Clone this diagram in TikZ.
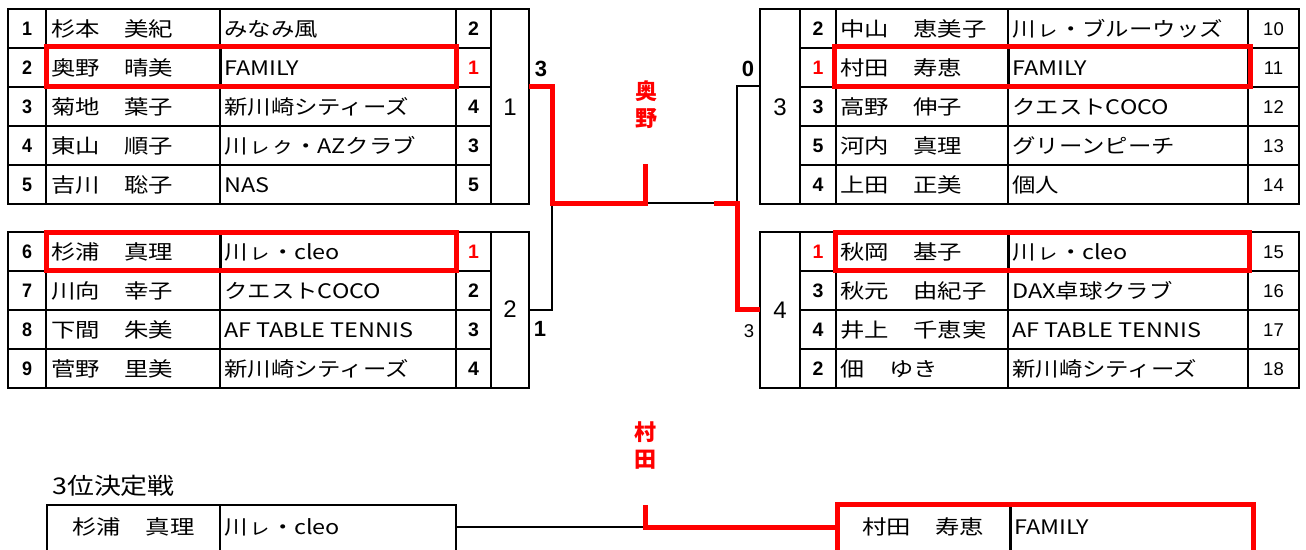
\documentclass[tikz,border=0pt]{standalone}
\usepackage{fontspec}
\setmainfont{Noto Sans CJK JP}
\newfontfamily\jpw[FakeStretch=1.22]{Noto Sans CJK JP}
\newfontfamily\jpt[FakeStretch=1.17]{Noto Sans CJK JP}
\newfontfamily\digfont{Liberation Sans}
\newfontfamily\digfontN[FakeStretch=0.92]{Liberation Sans}
\begin{document}
\begin{tikzpicture}[x=1pt,y=-1pt,
  grid/.style={draw=black,line width=1.8pt},
  thk/.style={draw=black,line width=3pt},
  redbox/.style={draw=red,line width=5pt},
  rline/.style={draw=red,line width=5pt},
  bline/.style={draw=black,line width=2pt},
  nm/.style={anchor=base west,inner sep=0pt,font=\jpw\fontsize{20}{20}\selectfont},
  tm/.style={anchor=base west,inner sep=0pt,font=\jpt\fontsize{20}{20}\selectfont},
  seedL/.style={anchor=base,inner sep=0pt,font=\digfontN\bfseries\fontsize{19.5}{19.5}\selectfont},
  res/.style={anchor=base,inner sep=0pt,font=\digfont\bfseries\fontsize{19.5}{19.5}\selectfont},
  rnd/.style={anchor=base,inner sep=0pt,font=\digfont\fontsize{24}{24}\selectfont},
  seedR/.style={anchor=base,inner sep=0pt,font=\digfont\fontsize{18.5}{18.5}\selectfont},
  score/.style={anchor=base,inner sep=0pt,font=\digfont\bfseries\fontsize{22}{22}\selectfont},
  winner/.style={inner sep=0pt,text=red,align=center,font=\bfseries\fontsize{22}{27}\selectfont},
]
\useasboundingbox (0,0) rectangle (1306,549);
\clip (0,0) rectangle (1306,549);

% ---------- left table 1 ----------
\draw[grid] (8,9) rectangle (529,204);
\foreach \x in {46,220,456,491} \draw[grid] (\x,9) -- (\x,204);
\foreach \y in {48,87,165} \draw[grid] (8,\y) -- (491,\y);
\draw[line width=2.6pt] (8,126) -- (491,126);
\draw[thk] (220,48) -- (220,87);
\foreach \s/\n/\t/\r/\c [count=\k] in {
1/杉本　美紀/みなみ風/2/black,
2/奥野　晴美/FAMILY/1/red,
3/菊地　葉子/新川崎シティーズ/4/black,
4/東山　順子/川ㇾㇰ・AZクラブ/3/black,
5/吉川　聡子/NAS/5/black}{
  \pgfmathsetmacro\yy{9+39*(\k-0.5)}
  \node[seedL] (la\k) at (27,\yy+7) {\s};
  \node[nm] (lb\k) at (51,\yy+7.6) {\n};
  \node[tm] (lc\k) at (224,\yy+7.6) {\t};
  \node[res,text=\c] (ld\k) at (473.5,\yy+7) {\r};
}
\node[rnd] (lr1) at (510,115) {1};
\draw[redbox] (46.5,46.5) rectangle (456,86);

% ---------- left table 2 ----------
\draw[grid] (8,232) rectangle (529,388);
\foreach \x in {46,220,456,491} \draw[grid] (\x,232) -- (\x,388);
\foreach \y in {271,310,349} \draw[grid] (8,\y) -- (491,\y);
\draw[thk] (220,232) -- (220,271);
\foreach \s/\n/\t/\r/\c [count=\k] in {
6/杉浦　真理/川ㇾ・cleo/1/red,
7/川向　幸子/クエストCOCO/2/black,
8/下間　朱美/AF TABLE TENNIS/3/black,
9/菅野　里美/新川崎シティーズ/4/black}{
  \pgfmathsetmacro\yy{232+39*(\k-0.5)}
  \node[seedL] (ma\k) at (27,\yy+7) {\s};
  \node[nm] (mb\k) at (51,\yy+7.6) {\n};
  \node[tm] (mc\k) at (224,\yy+7.6) {\t};
  \node[res,text=\c] (md\k) at (473.5,\yy+7) {\r};
}
\node[rnd] (lr2) at (510,317) {2};
\draw[redbox] (46.5,232) rectangle (456,270);

% ---------- right table 1 ----------
\draw[grid] (760,9) rectangle (1299,204);
\foreach \x in {800,836,1008,1248} \draw[grid] (\x,9) -- (\x,204);
\foreach \y in {48,87,126,165} \draw[grid] (800,\y) -- (1299,\y);
\draw[thk] (1008,48) -- (1008,87);
\foreach \r/\c/\n/\t/\s [count=\k] in {
2/black/中山　恵美子/川ㇾ・ブルーウッズ/10,
1/red/村田　寿恵/FAMILY/11,
3/black/高野　伸子/クエストCOCO/12,
5/black/河内　真理/グリーンピーチ/13,
4/black/上田　正美/個人/14}{
  \pgfmathsetmacro\yy{9+39*(\k-0.5)}
  \node[res,text=\c] (ra\k) at (818,\yy+7) {\r};
  \node[nm] (rb\k) at (840,\yy+7.6) {\n};
  \node[tm] (rc\k) at (1012,\yy+7.6) {\t};
  \node[seedR] (rd\k) at (1273.5,\yy+6.6) {\s};
}
\node[rnd] (rr1) at (780,115) {3};
\draw[redbox] (834.5,46.5) rectangle (1250,86);

% ---------- right table 2 ----------
\draw[grid] (760,232) rectangle (1299,388);
\foreach \x in {800,836,1008,1248} \draw[grid] (\x,232) -- (\x,388);
\foreach \y in {271,310,349} \draw[grid] (800,\y) -- (1299,\y);
\draw[thk] (1008,232) -- (1008,271);
\foreach \r/\c/\n/\t/\s [count=\k] in {
1/red/秋岡　基子/川ㇾ・cleo/15,
3/black/秋元　由紀子/DAX卓球クラブ/16,
4/black/井上　千恵実/AF TABLE TENNIS/17,
2/black/佃　ゆき/新川崎シティーズ/18}{
  \pgfmathsetmacro\yy{232+39*(\k-0.5)}
  \node[res,text=\c] (sa\k) at (818,\yy+7) {\r};
  \node[nm] (sb\k) at (840,\yy+7.6) {\n};
  \node[tm] (sc\k) at (1012,\yy+7.6) {\t};
  \node[seedR] (sd\k) at (1273.5,\yy+6.6) {\s};
}
\node[rnd] (rr2) at (780,318.5) {4};
\draw[redbox] (835,232) rectangle (1249,270);

% ---------- bracket ----------
\coordinate (A1) at (529,86);
\coordinate (A3) at (552,203);
\coordinate (B1) at (529,310);
\coordinate (F) at (645,203);
\coordinate (Ftop) at (645,164);
\coordinate (C1) at (760,86);
\coordinate (C3) at (737,203);
\coordinate (G) at (714,203);
\coordinate (D1) at (760,309);

\draw[bline] (B1) -| (A3);
\draw[bline] (C1) -| (C3);
\draw[bline] (F) -- (C3);
\draw[rline] (A1) -| (A3) -- (F) -- (Ftop);
\draw[rline] (G) -- (C3) |- (D1);

\node[score] (s1) at (541,76.9) {3};
\node[score] (s2) at (540,336.9) {1};
\node[score] (s3) at (748,76.9) {0};
\node[seedR] (s4) at (749,337.6) {3};

\node[winner] (w1) at (646.5,105) {奥\\野};
\node[winner] (w2) at (645,446) {村\\田};

% ---------- 3rd place ----------
\node[anchor=base west,inner sep=0pt,font=\jpt\fontsize{23}{23}\selectfont] (ttl) at (52,494.5) {3位決定戦};
\draw[grid] (47,505) rectangle (456,580);
\draw[grid] (220,505) -- (220,560);
\node[nm,anchor=base] (b1) at (133.5,534.6) {杉浦　真理};
\node[tm] (b2) at (224,534.6) {川ㇾ・cleo};

\draw[thk] (1010,505) -- (1010,560);
\draw[redbox] (837,504.5) rectangle (1253,580);
\node[nm,anchor=base] (b3) at (923,534.6) {村田　寿恵};
\node[tm] (b4) at (1014,534.6) {FAMILY};

\coordinate (H) at (456,527);
\coordinate (I) at (645,527);
\coordinate (Itop) at (645,505);
\coordinate (J) at (837,527);
\draw[bline] (H) -- (I);
\draw[rline] (Itop) -- (I) -- (J);
\end{tikzpicture}
\end{document}
